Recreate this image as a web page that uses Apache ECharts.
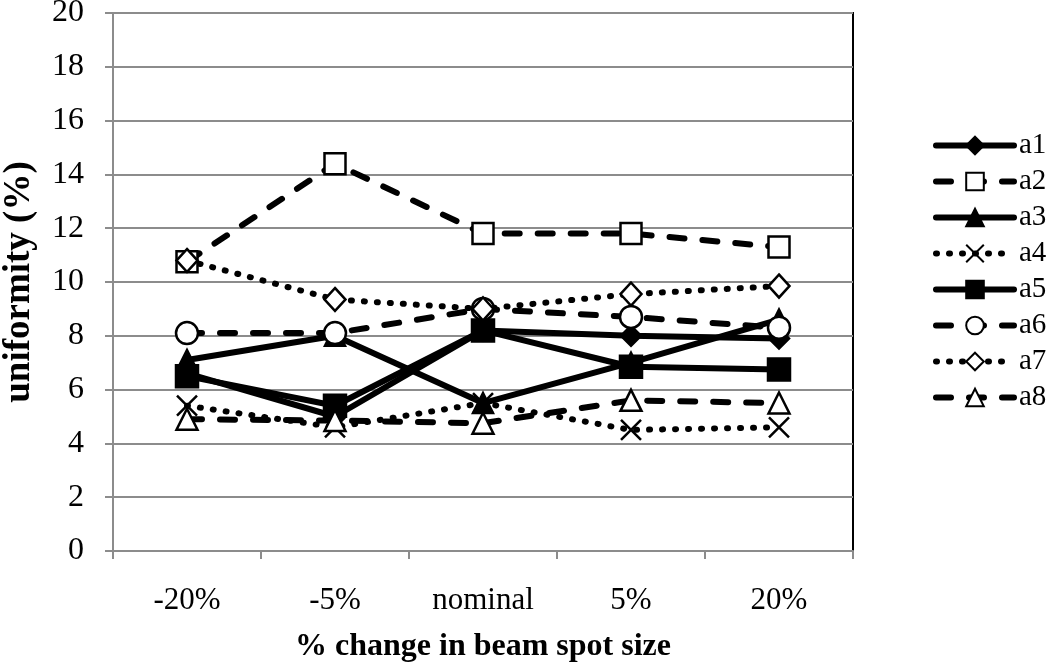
<!DOCTYPE html>
<html>
<head>
<meta charset="utf-8">
<script src="https://cdn.jsdelivr.net/npm/echarts@6/dist/echarts.min.js"></script>
<style>
  html, body { margin: 0; padding: 0; background: #fff; }
  #main { width: 1050px; height: 669px; }
</style>
</head>
<body>
<div id="main"></div>
<script>
// categories (x axis) and y ticks
var categories = ["-20%", "-5%", "nominal", "5%", "20%"];
var yMin = 0, yMax = 20, yStep = 2;

// uniformity (%) per series
var a1 = [6.6, 5.0, 8.2, 8.0, 7.9];
var a2 = [10.75, 14.4, 11.8, 11.8, 11.3];
var a3 = [7.1, 8.0, 5.5, 7.0, 8.6];
var a4 = [5.4, 4.6, 5.5, 4.5, 4.6];
var a5 = [6.5, 5.4, 8.2, 6.85, 6.75];
var a6 = [8.1, 8.1, 9.0, 8.7, 8.3];
var a7 = [10.8, 9.35, 9.0, 9.55, 9.85];
var a8 = [4.9, 4.85, 4.75, 5.6, 5.5];

var FONT = "Liberation Serif";
var crossPath = "path://M0,0L10,10M10,0L0,10";

var SOLID = "solid";
var DASHED = [15, 18];
var DOTTED = [1, 12];

function mk(name, data, dash, symbol, size, filled) {
  return {
    name: name,
    type: "line",
    data: data,
    symbol: symbol,
    symbolSize: size,
    showAllSymbol: true,
    lineStyle: { color: "#000", width: 6, type: dash, cap: "round" },
    itemStyle: {
      color: filled ? "#000" : "#fff",
      borderColor: "#000",
      borderWidth: 2.5
    },
    emphasis: { disabled: true },
    animation: false
  };
}

var myChart = echarts.init(document.getElementById("main"));
var option = {
  backgroundColor: "#fff",
  grid: {
    left: 113, right: 197, top: 13, bottom: 118,
    outerBoundsMode: "none",
    containLabel: false,
    show: true, borderColor: "#000", borderWidth: 2
  },
  legend: {
    orient: "vertical",
    left: 933,
    top: 131,
    padding: 0,
    itemWidth: 78,
    itemHeight: 22,
    itemGap: 7,
    lineStyle: { width: 6 },
    textStyle: { fontFamily: FONT, fontSize: 29, lineHeight: 22, color: "#000" },
    data: ["a1", "a2", "a3", "a4", "a5", "a6", "a7", "a8"]
  },
  xAxis: {
    type: "category",
    data: categories,
    boundaryGap: true,
    name: "% change in beam spot size",
    nameLocation: "middle",
    nameGap: 80,
    nameTextStyle: { fontFamily: FONT, fontSize: 32, fontWeight: "bold", color: "#000" },
    axisLine: { lineStyle: { color: "#8c8c8c", width: 2 } },
    axisTick: { show: true, length: 8, lineStyle: { color: "#8c8c8c", width: 2 } },
    axisLabel: { fontFamily: FONT, fontSize: 31, color: "#000", margin: 34 },
    splitLine: { show: false }
  },
  yAxis: {
    type: "value",
    min: yMin, max: yMax, interval: yStep,
    name: "uniformity (%)",
    nameLocation: "middle",
    nameGap: 75,
    nameRotate: 90,
    nameTextStyle: { fontFamily: FONT, fontSize: 37, fontWeight: "bold", color: "#000" },
    axisLine: { show: true, lineStyle: { color: "#8c8c8c", width: 2 } },
    axisTick: { show: true, length: 8, lineStyle: { color: "#8c8c8c", width: 2 } },
    axisLabel: { fontFamily: FONT, fontSize: 32, color: "#000", margin: 29 },
    splitLine: { show: true, lineStyle: { color: "#8c8c8c", width: 2 } }
  },
  series: [
    mk("a1", a1, SOLID, "diamond", [20, 20], true),
    mk("a2", a2, DASHED, "rect", 21, false),
    mk("a3", a3, SOLID, "triangle", 20, true),
    mk("a4", a4, DOTTED, crossPath, 20, false),
    mk("a5", a5, SOLID, "rect", 22, true),
    mk("a6", a6, DASHED, "circle", 22, false),
    mk("a7", a7, DOTTED, "diamond", [21, 23], false),
    mk("a8", a8, DASHED, "triangle", 21, false)
  ]
};
myChart.setOption(option);
</script>
</body>
</html>
